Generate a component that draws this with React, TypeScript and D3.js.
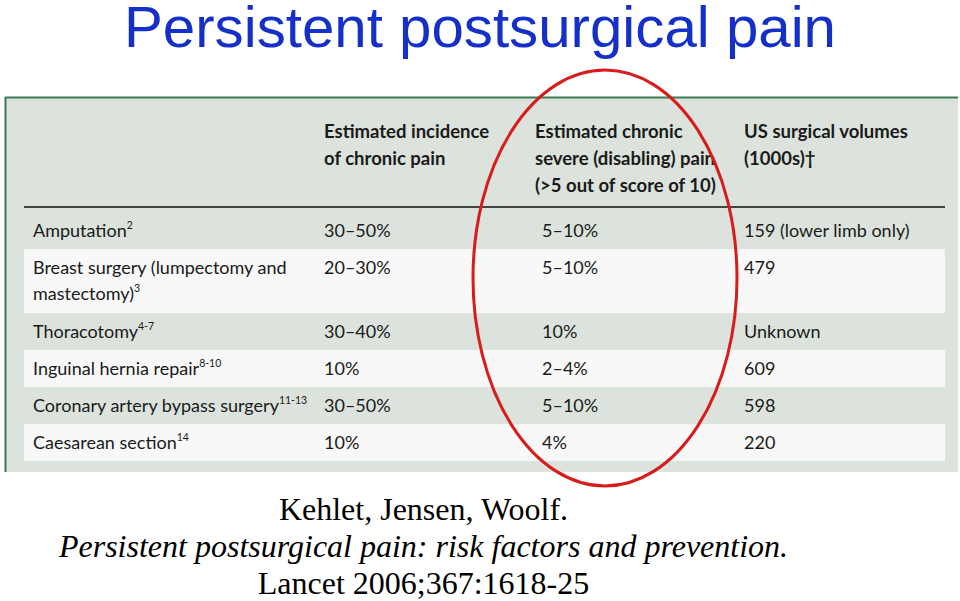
import * as d3 from "d3";

const procedures = [
  "Amputation",
  "Breast surgery (lumpectomy and|mastectomy)",
  "Thoracotomy",
  "Inguinal hernia repair",
  "Coronary artery bypass surgery",
  "Caesarean section",
];
const refs = ["2", "3", "4-7", "8-10", "11-13", "14"];
const incidence = ["30–50%", "20–30%", "30–40%", "10%", "30–50%", "10%"];
const severe = ["5–10%", "5–10%", "10%", "2–4%", "5–10%", "4%"];
const volumes = ["159 (lower limb only)", "479", "Unknown", "609", "598", "220"];

const headers = [
  "",
  "Estimated incidence|of chronic pain",
  "Estimated chronic|severe (disabling) pain|(>5 out of score of 10)",
  "US surgical volumes|(1000s)†",
];
const citation = [
  "Kehlet, Jensen, Woolf.",
  "Persistent postsurgical pain: risk factors and prevention.",
  "Lancet 2006;367:1618-25",
];

const width = 960;
const height = 601;
const bg = "#dbe3dc";
const stripe = "#f7f8f7";
const tableFont = "Lato, 'Open Sans', sans-serif";

const App = () => {
  const colX = d3.scaleOrdinal<number, number>().domain([0, 1, 2, 3]).range([33, 324, 542, 744]);

  // row heights: one line = 37px, each extra wrapped line adds 27px
  const lines = procedures.map(p => p.split("|").length);
  const heights = lines.map(n => 37 + (n - 1) * 27);
  const tops = [0, ...Array.from(d3.cumsum(heights))];
  const y = d3.scaleLinear().domain([0, 1]).range([212, 213]);

  const rows = procedures.map((p, i) => ({
    name: p.split("|"),
    ref: refs[i],
    cells: [incidence[i], severe[i], volumes[i]],
    top: y(tops[i]),
    h: heights[i],
  }));

  return (
    <svg width={width} height={height} style={{ position: "absolute", left: 0, top: 0 }}>
      <rect width={width} height={height} fill="#fff" />
      <text x={480} y={47} textAnchor="middle" fontFamily="'Liberation Sans', Arial, sans-serif"
        fontSize={57} fill="#1530c8" textLength={712} lengthAdjust="spacingAndGlyphs">
        Persistent postsurgical pain
      </text>

      <rect x={5} y={97} width={953} height={375} fill={bg} />
      <line x1={5} x2={958} y1={97.5} y2={97.5} stroke="#3a7a55" strokeWidth={2} />
      <line x1={5.5} x2={5.5} y1={97} y2={472} stroke="#3a7a55" strokeWidth={2} />

      {headers.map((h, c) =>
        h.split("|").map((t, k) => (
          <text key={c + "-" + k} x={c === 2 ? 535 : colX(c)} y={138 + k * 27}
            fontFamily={tableFont} fontWeight={700} fontSize={18.5} fill="#1a1a1a">{t}</text>
        ))
      )}
      <line x1={24} x2={945} y1={207} y2={207} stroke="#111" strokeWidth={1.6} />

      {rows.map((r, i) => (
        <g key={i}>
          {i % 2 === 1 && <rect x={24} y={r.top} width={921} height={r.h} fill={stripe} />}
          <text x={colX(0)} y={r.top + 25} fontFamily={tableFont} fontSize={18} fill="#1a1a1a">
            {r.name.map((t, k) => (
              <tspan key={k} x={colX(0)} dy={k === 0 ? 0 : 26}>{t}</tspan>
            ))}
            <tspan fontSize={10.5} dy={-8}>{r.ref}</tspan>
          </text>
          {r.cells.map((v, c) => (
            <text key={c} x={colX(c + 1)} y={r.top + 25} fontFamily={tableFont} fontSize={18} fill="#1a1a1a">{v}</text>
          ))}
        </g>
      ))}

      <ellipse cx={605} cy={278} rx={132} ry={208} fill="none" stroke="#d81c1c" strokeWidth={3} />

      {citation.map((t, k) => (
        <text key={k} x={423.5} y={520 + k * 37} textAnchor="middle"
          fontFamily="'Liberation Serif', 'Times New Roman', serif" fontSize={32}
          fontStyle={k === 1 ? "italic" : "normal"} fill="#000">{t}</text>
      ))}
    </svg>
  );
};

export default App;
